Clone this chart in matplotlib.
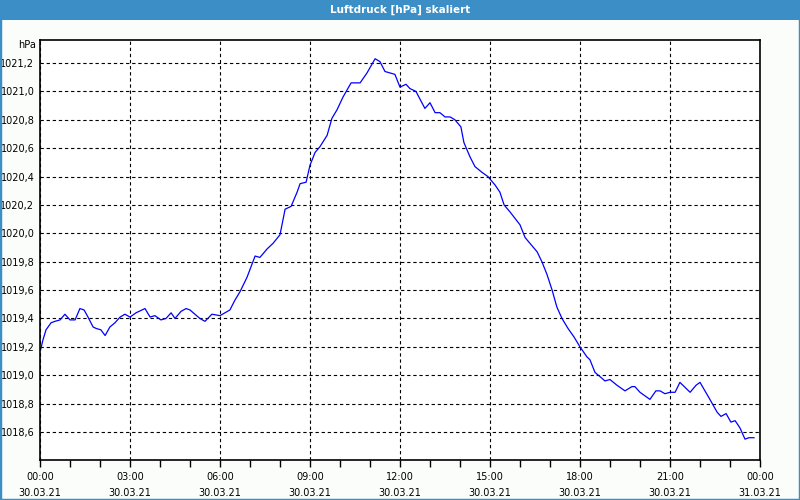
import matplotlib.pyplot as plt
from matplotlib.patches import Rectangle
from matplotlib.ticker import MultipleLocator, FuncFormatter

# Luftdruck 30.03.21, Stunden ab 00:00
hours = [0.02, 0.10, 0.20, 0.37, 0.50, 0.67, 0.83, 1.00, 1.17, 1.33, 1.47, 1.60,
         1.77, 1.87, 2.03, 2.17, 2.33, 2.50, 2.67, 2.83, 3.00, 3.20, 3.50, 3.67,
         3.83, 4.03, 4.20, 4.37, 4.50, 4.70, 4.87, 5.00, 5.33, 5.50, 5.73, 6.00,
         6.33, 6.50, 6.67, 6.90, 7.17, 7.33, 7.57, 7.77, 8.00, 8.17, 8.37, 8.57,
         8.67, 8.87, 9.00, 9.17, 9.33, 9.57, 9.73, 9.90, 10.10, 10.37, 10.67, 10.90,
         11.17, 11.33, 11.50, 11.83, 12.00, 12.20, 12.33, 12.53, 12.83, 13.00, 13.17, 13.33,
         13.50, 13.67, 13.83, 14.03, 14.13, 14.33, 14.50, 14.73, 14.93, 15.17, 15.33, 15.47,
         15.67, 16.00, 16.17, 16.37, 16.57, 16.73, 16.90, 17.07, 17.23, 17.40, 17.60, 17.80,
         18.00, 18.23, 18.33, 18.50, 18.67, 18.83, 19.00, 19.23, 19.50, 19.73, 19.83, 20.00,
         20.33, 20.53, 20.67, 20.83, 21.00, 21.17, 21.33, 21.67, 21.87, 22.00, 22.33, 22.57,
         22.70, 22.87, 23.03, 23.17, 23.33, 23.50, 23.63, 23.80]
pressure = [1019.18, 1019.25, 1019.32, 1019.37, 1019.38, 1019.39, 1019.43, 1019.39, 1019.39, 1019.47, 1019.46, 1019.41,
            1019.34, 1019.33, 1019.32, 1019.28, 1019.34, 1019.37, 1019.41, 1019.43, 1019.41, 1019.44, 1019.47, 1019.41,
            1019.42, 1019.39, 1019.40, 1019.44, 1019.40, 1019.45, 1019.47, 1019.46, 1019.40, 1019.38, 1019.43, 1019.42,
            1019.46, 1019.53, 1019.59, 1019.69, 1019.84, 1019.83, 1019.89, 1019.93, 1019.99, 1020.17, 1020.19, 1020.29,
            1020.35, 1020.36, 1020.48, 1020.57, 1020.61, 1020.69, 1020.81, 1020.87, 1020.96, 1021.06, 1021.06, 1021.13,
            1021.23, 1021.21, 1021.14, 1021.12, 1021.03, 1021.05, 1021.02, 1021.00, 1020.88, 1020.92, 1020.85, 1020.85,
            1020.82, 1020.82, 1020.80, 1020.75, 1020.64, 1020.54, 1020.47, 1020.43, 1020.40, 1020.34, 1020.29, 1020.20,
            1020.15, 1020.06, 1019.97, 1019.92, 1019.87, 1019.80, 1019.71, 1019.60, 1019.48, 1019.40, 1019.33, 1019.27,
            1019.20, 1019.13, 1019.11, 1019.02, 1018.99, 1018.96, 1018.97, 1018.93, 1018.89, 1018.92, 1018.92, 1018.88,
            1018.83, 1018.89, 1018.89, 1018.87, 1018.88, 1018.88, 1018.95, 1018.88, 1018.93, 1018.95, 1018.83, 1018.74,
            1018.71, 1018.73, 1018.67, 1018.68, 1018.63, 1018.55, 1018.56, 1018.56]

tick_hours = [0, 3, 6, 9, 12, 15, 18, 21, 24]
tick_labels = ['00:00\n30.03.21', '03:00\n30.03.21', '06:00\n30.03.21', '09:00\n30.03.21',
               '12:00\n30.03.21', '15:00\n30.03.21', '18:00\n30.03.21', '21:00\n30.03.21',
               '00:00\n31.03.21']

bar = '#3c8fc6'
fig = plt.figure(figsize=(8, 5), dpi=100, facecolor='#fbfdfb')
ax = fig.add_axes([0.05, 0.08, 0.90, 0.84])
ax.set_facecolor('white')

ax.plot(hours, pressure, color='#0000ff', lw=0.9)

ax.set_xlim(0, 24)
ax.set_ylim(1018.403, 1021.362)
ax.set_xticks(tick_hours)
ax.set_xticklabels(tick_labels, fontsize=7, linespacing=1.75)
ax.xaxis.set_minor_locator(MultipleLocator(1))
ax.yaxis.set_major_locator(MultipleLocator(0.2))
ax.yaxis.set_major_formatter(FuncFormatter(lambda v, p: f'{v:.1f}'.replace('.', ',')))
ax.tick_params(axis='x', which='both', direction='out', length=5, width=1, pad=4)
ax.tick_params(axis='y', length=0, labelsize=7, pad=4)
ax.grid(True, which='major', color='black', lw=0.8, linestyle=(0, (3, 2.5)))
for s in ax.spines.values():
    s.set_linewidth(1.2)
    s.set_color('black')

fig.text(0.045, 0.91, 'hPa', fontsize=7, ha='right', va='center')

# title bar and blue frame
fig.patches.append(Rectangle((0, 0.96), 1, 0.04, transform=fig.transFigure,
                             facecolor=bar, edgecolor='none', zorder=0))
fig.patches.append(Rectangle((0, 0), 1, 1, transform=fig.transFigure,
                             facecolor='none', edgecolor=bar, lw=2.5, zorder=1))
fig.text(0.5, 0.98, 'Luftdruck [hPa] skaliert', color='white', fontsize=7.5,
         fontweight='bold', ha='center', va='center')

fig.savefig('out.png', dpi=100, facecolor=fig.get_facecolor())
